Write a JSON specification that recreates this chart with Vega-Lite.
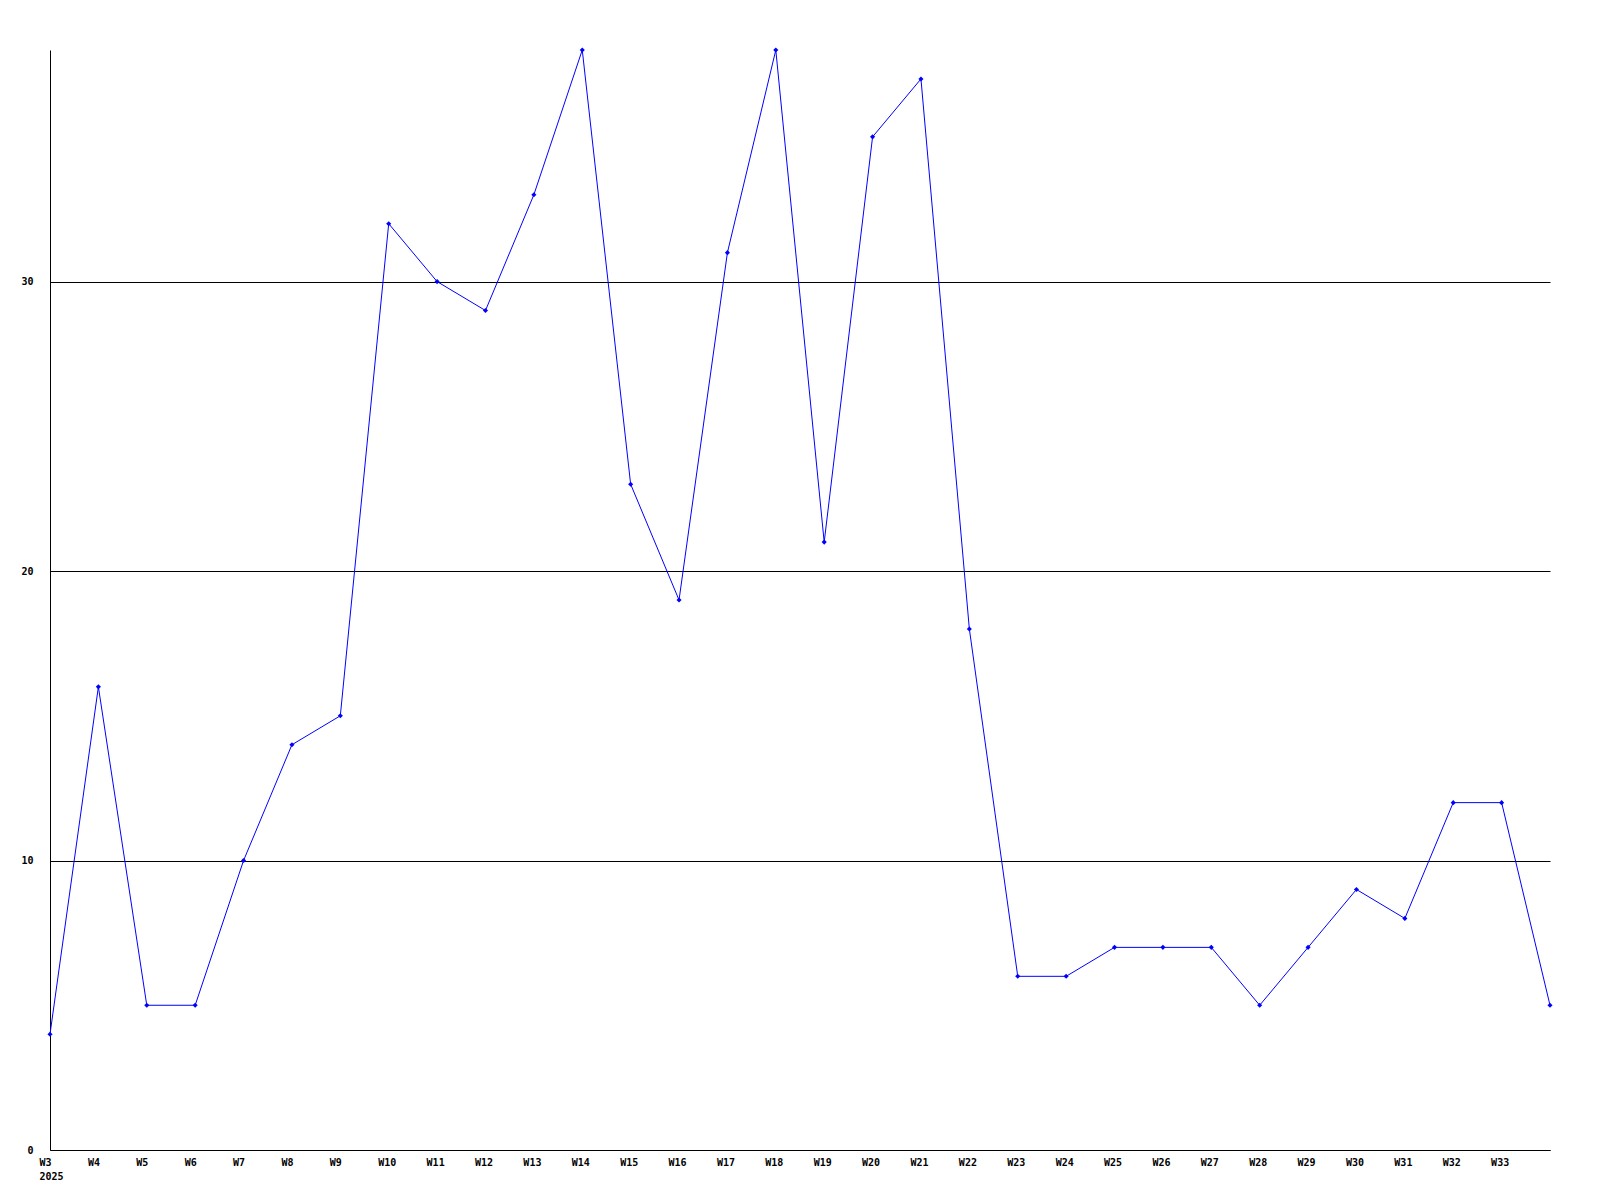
{
  "$schema": "https://vega.github.io/schema/vega-lite/v6.json",
  "width": 1500,
  "height": 1100,
  "autosize": {"type": "none"},
  "padding": {"left": 50, "top": 50, "right": 50, "bottom": 50},
  "background": "white",
  "config": {"view": {"stroke": null}},
  "data": {"values": [
    {"week": "W3", "value": 4}, {"week": "W4", "value": 16}, {"week": "W5", "value": 5},
    {"week": "W6", "value": 5}, {"week": "W7", "value": 10}, {"week": "W8", "value": 14},
    {"week": "W9", "value": 15}, {"week": "W10", "value": 32}, {"week": "W11", "value": 30},
    {"week": "W12", "value": 29}, {"week": "W13", "value": 33}, {"week": "W14", "value": 38},
    {"week": "W15", "value": 23}, {"week": "W16", "value": 19}, {"week": "W17", "value": 31},
    {"week": "W18", "value": 38}, {"week": "W19", "value": 21}, {"week": "W20", "value": 35},
    {"week": "W21", "value": 37}, {"week": "W22", "value": 18}, {"week": "W23", "value": 6},
    {"week": "W24", "value": 6}, {"week": "W25", "value": 7}, {"week": "W26", "value": 7},
    {"week": "W27", "value": 7}, {"week": "W28", "value": 5}, {"week": "W29", "value": 7},
    {"week": "W30", "value": 9}, {"week": "W31", "value": 8}, {"week": "W32", "value": 12},
    {"week": "W33", "value": 12}, {"week": "W34", "value": 5}
  ]},
  "encoding": {
    "x": {
      "field": "week", "type": "ordinal", "sort": null,
      "scale": {"type": "point", "padding": 0},
      "axis": {
        "title": null,
        "values": ["W3","W4","W5","W6","W7","W8","W9","W10","W11","W12","W13","W14","W15","W16","W17","W18","W19","W20","W21","W22","W23","W24","W25","W26","W27","W28","W29","W30","W31","W32","W33"],
        "labelExpr": "datum.value == 'W3' ? ['W3', '2025'] : datum.label",
        "labelAngle": 0,
        "labelAlign": "left",
        "labelBaseline": "top",
        "labelOffset": -11,
        "labelPadding": 7,
        "labelLineHeight": 14,
        "labelFont": "DejaVu Sans Mono",
        "labelFontWeight": "bold",
        "labelFontSize": 10,
        "labelColor": "black",
        "ticks": false,
        "domainColor": "black",
        "domainWidth": 1,
        "labelOverlap": false,
        "grid": false
      }
    },
    "y": {
      "field": "value", "type": "quantitative",
      "scale": {"domain": [0, 38], "nice": false},
      "axis": {
        "title": null,
        "values": [0, 10, 20, 30],
        "grid": true,
        "gridColor": "black",
        "gridOpacity": 1,
        "gridWidth": 1,
        "ticks": false,
        "domainColor": "black",
        "labelFont": "DejaVu Sans Mono",
        "labelFontWeight": "bold",
        "labelFontSize": 10,
        "labelColor": "black",
        "labelPadding": 17,
        "labelBaseline": "middle"
      }
    }
  },
  "layer": [
    {"mark": {"type": "line", "color": "#0000ff", "strokeWidth": 1}},
    {"mark": {"type": "point", "shape": "diamond", "filled": true, "color": "#0000ff", "size": 26, "opacity": 1}}
  ]
}
